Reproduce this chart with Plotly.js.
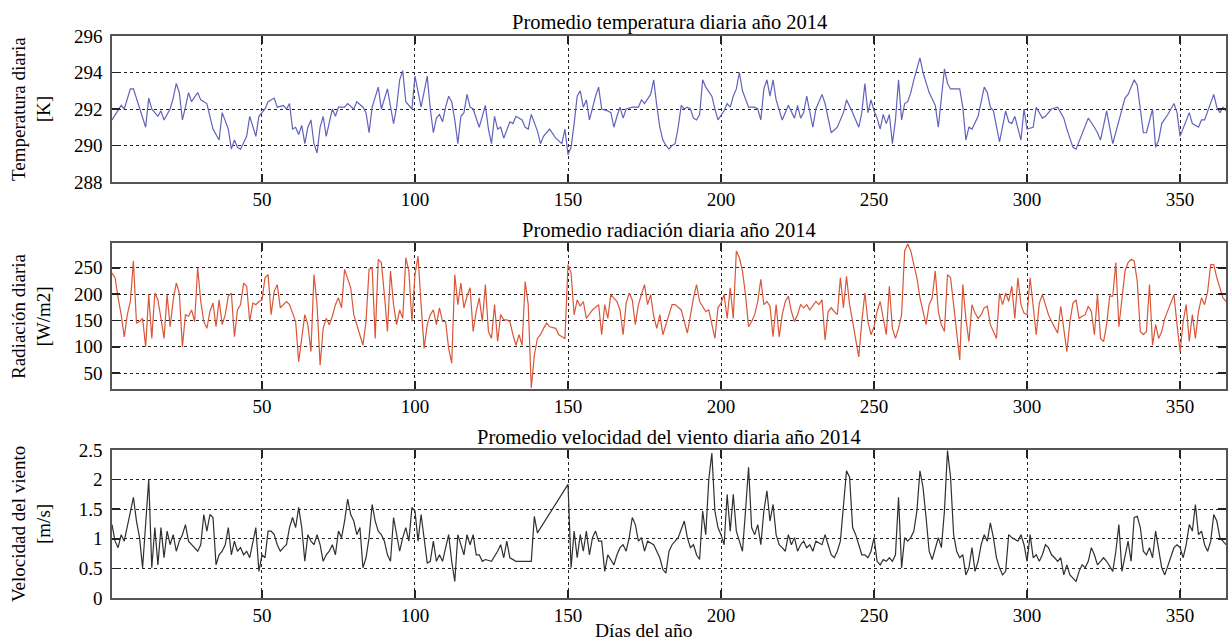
<!DOCTYPE html>
<html><head><meta charset="utf-8">
<script src="https://cdn.plot.ly/plotly-3.0.1.min.js"></script>
<style>html,body{margin:0;padding:0;background:#fff}#chart{width:1228px;height:640px}</style>
</head><body><div id="chart"></div>
<script>
// [day, value] pairs
const temperatura = [[1,291.4],[4,292.2],[5,292.0],[7,293.1],[8,293.1],[10,292.1],[12,291.0],[13,292.6],[14,292.0],[16,291.6],[17,291.9],[18,291.4],[20,292.0],[21,292.6],[22,293.4],[23,292.9],[24,291.4],[25,292.1],[26,292.9],[27,292.4],[29,292.9],[30,292.5],[32,292.3],[33,291.6],[34,290.9],[36,290.3],[37,291.8],[39,290.9],[40,289.8],[41,290.3],[42,289.9],[43,289.8],[45,290.5],[46,291.6],[47,291.0],[48,290.5],[49,291.6],[51,292.0],[52,292.4],[54,292.6],[55,292.1],[57,292.2],[58,292.0],[59,292.3],[60,290.9],[61,291.0],[62,290.6],[63,291.1],[64,290.1],[65,291.0],[66,291.4],[67,290.1],[68,289.6],[69,291.0],[70,291.6],[71,290.5],[73,292.0],[74,291.6],[75,292.1],[77,292.1],[78,292.3],[80,292.0],[81,292.4],[83,292.1],[84,291.8],[85,290.7],[86,292.1],[88,293.2],[89,292.0],[91,293.1],[93,291.2],[94,292.1],[95,293.6],[96,294.1],[97,292.4],[98,292.2],[99,292.0],[100,293.8],[102,292.1],[104,293.8],[105,292.0],[106,290.7],[107,291.5],[108,291.7],[109,291.3],[110,292.1],[111,292.7],[112,292.4],[113,291.4],[114,290.1],[115,291.6],[116,291.8],[117,292.8],[118,292.1],[119,292.0],[121,291.0],[123,292.2],[124,290.9],[125,290.1],[126,291.6],[127,290.9],[128,291.0],[129,290.4],[131,291.3],[132,291.2],[133,291.6],[135,291.4],[136,291.0],[137,290.9],[138,291.7],[140,290.8],[141,290.1],[142,290.5],[144,290.9],[146,290.4],[148,290.1],[149,290.9],[150,289.5],[151,289.9],[152,291.2],[153,292.7],[154,293.0],[155,292.1],[156,292.5],[157,291.4],[159,292.7],[160,293.2],[161,292.0],[163,291.9],[164,291.8],[165,291.0],[166,291.6],[167,292.1],[168,291.5],[169,292.0],[171,292.1],[173,292.1],[174,292.5],[175,292.3],[177,292.8],[178,293.6],[179,292.2],[180,291.0],[181,290.3],[182,290.0],[183,289.8],[184,290.0],[185,290.1],[186,291.0],[187,292.2],[188,292.0],[189,292.1],[190,292.0],[191,291.5],[192,291.4],[193,291.7],[194,293.6],[195,293.2],[197,292.7],[198,292.0],[199,291.4],[201,291.9],[202,292.3],[203,292.1],[204,292.7],[205,293.1],[206,294.0],[207,293.0],[209,292.1],[211,292.1],[212,292.0],[213,291.4],[214,293.1],[215,293.6],[216,292.7],[217,293.6],[218,292.5],[220,291.4],[221,291.8],[222,292.2],[224,291.5],[225,292.2],[226,291.5],[227,291.8],[228,292.7],[229,291.9],[230,291.0],[231,292.0],[233,292.8],[234,292.3],[235,291.5],[236,290.7],[238,291.0],[240,291.8],[241,292.5],[243,291.8],[245,291.0],[246,291.8],[247,293.4],[248,291.8],[249,292.5],[250,291.9],[251,291.5],[252,290.9],[253,291.7],[254,291.2],[255,291.7],[256,290.1],[257,291.4],[258,293.6],[259,291.4],[260,292.3],[261,292.4],[262,292.9],[263,293.6],[265,294.8],[266,294.0],[267,293.5],[268,292.9],[270,292.2],[271,291.0],[273,294.2],[274,293.4],[275,293.1],[278,293.1],[279,292.1],[280,290.3],[281,291.0],[282,290.9],[284,291.6],[286,293.2],[287,292.9],[288,292.1],[289,291.9],[291,290.2],[293,291.9],[294,291.3],[295,291.2],[296,291.6],[298,290.3],[299,292.0],[300,290.9],[302,291.0],[303,292.1],[305,291.5],[306,291.6],[308,292.0],[310,292.1],[312,291.5],[313,290.9],[315,289.9],[316,289.8],[318,290.7],[320,291.5],[322,291.0],[323,290.7],[324,290.3],[326,291.9],[328,290.1],[330,291.4],[332,292.6],[333,292.8],[335,293.6],[336,293.3],[337,292.0],[338,290.7],[339,290.7],[341,292.0],[342,289.9],[343,290.3],[344,291.2],[346,291.7],[348,292.3],[349,291.8],[350,290.5],[351,290.9],[353,291.8],[354,291.2],[356,291.0],[357,291.4],[358,291.4],[361,292.8],[362,292.1],[363,291.8],[364,292.1],[365,291.9]];

const radiacion = [[1,240],[2,231],[3,193],[4,161],[5,119],[6,161],[7,186],[8,263],[9,145],[10,148],[11,154],[12,100],[13,199],[14,116],[15,202],[16,189],[17,154],[18,116],[19,199],[20,138],[21,189],[22,221],[23,202],[24,100],[25,161],[26,158],[27,170],[28,148],[29,250],[30,186],[31,148],[32,135],[33,167],[34,183],[35,138],[36,189],[37,142],[38,161],[39,196],[40,202],[41,119],[42,170],[43,180],[44,221],[45,215],[46,148],[47,183],[48,180],[49,186],[50,189],[51,231],[52,237],[53,161],[54,205],[55,218],[56,174],[57,180],[58,186],[59,180],[61,148],[62,72],[63,119],[64,161],[65,142],[66,91],[67,237],[68,180],[69,65],[70,135],[71,154],[72,142],[73,158],[74,180],[75,193],[76,174],[77,247],[78,228],[79,212],[80,161],[81,142],[83,103],[84,148],[85,247],[86,250],[87,116],[88,266],[89,260],[90,199],[91,129],[92,244],[93,180],[94,142],[95,170],[96,154],[97,269],[98,244],[99,148],[100,237],[101,272],[102,180],[103,97],[104,142],[105,161],[106,170],[107,142],[108,174],[109,148],[110,148],[111,97],[112,69],[113,237],[114,180],[115,221],[116,174],[117,196],[118,212],[119,129],[120,167],[121,193],[122,148],[123,218],[124,129],[125,116],[126,180],[127,110],[128,161],[129,151],[130,151],[131,148],[132,123],[133,103],[134,123],[135,103],[136,224],[137,180],[138,22],[139,84],[140,116],[141,123],[142,135],[143,145],[144,138],[146,135],[147,123],[149,116],[150,256],[151,240],[152,161],[153,189],[154,177],[155,186],[156,154],[157,161],[158,170],[160,180],[161,123],[162,180],[163,154],[164,199],[166,186],[167,170],[168,123],[169,183],[170,202],[171,189],[172,142],[173,180],[175,218],[176,180],[177,199],[178,158],[179,135],[180,161],[181,123],[183,161],[184,180],[185,180],[187,170],[189,126],[190,161],[191,193],[192,218],[193,186],[195,167],[196,170],[198,116],[199,174],[200,183],[201,199],[202,154],[203,212],[204,154],[205,282],[206,269],[207,244],[208,199],[209,138],[210,148],[211,161],[212,186],[213,228],[214,180],[215,186],[216,177],[217,119],[218,180],[219,119],[220,161],[221,186],[222,196],[223,167],[224,148],[225,161],[226,180],[227,174],[228,180],[229,170],[231,186],[232,180],[233,189],[234,113],[235,167],[236,174],[237,167],[238,161],[239,231],[240,174],[241,234],[242,180],[243,148],[244,110],[245,81],[246,148],[247,202],[248,148],[249,123],[250,138],[251,167],[252,186],[253,154],[254,123],[255,215],[256,135],[257,116],[258,135],[259,161],[260,282],[261,295],[262,282],[263,256],[264,231],[265,193],[266,170],[267,142],[268,180],[269,193],[270,244],[271,167],[272,142],[273,129],[274,237],[275,231],[276,180],[277,129],[278,75],[279,218],[280,154],[281,110],[282,180],[283,164],[284,154],[285,161],[286,174],[287,177],[288,142],[290,116],[291,202],[292,180],[293,202],[294,186],[295,215],[296,154],[297,231],[298,180],[299,164],[300,161],[301,231],[303,123],[304,183],[305,199],[306,180],[307,161],[308,148],[310,126],[311,177],[312,135],[313,91],[314,148],[315,183],[316,189],[317,154],[318,158],[319,161],[320,177],[321,167],[322,123],[323,199],[324,116],[325,110],[326,142],[327,196],[328,196],[329,260],[330,138],[332,244],[333,260],[334,266],[335,263],[336,224],[337,129],[338,123],[339,129],[340,218],[341,103],[342,142],[343,116],[344,129],[345,154],[347,186],[348,199],[349,142],[350,91],[351,148],[352,180],[353,110],[354,161],[355,116],[356,167],[357,193],[358,180],[359,205],[360,256],[361,256],[362,231],[364,193],[365,186]];

const viento = [[1,1.24],[2,0.96],[3,0.85],[4,1.07],[5,0.96],[6,1.19],[7,1.47],[8,1.70],[9,1.30],[10,1.02],[11,0.51],[12,1.24],[13,2.0],[14,0.51],[15,1.19],[16,0.56],[17,1.19],[18,0.68],[19,1.13],[20,0.90],[21,1.07],[22,0.79],[23,0.96],[24,1.07],[25,1.24],[26,0.96],[27,0.90],[28,0.85],[29,0.79],[30,0.90],[31,1.41],[32,1.13],[33,1.41],[34,1.36],[35,0.56],[36,0.73],[37,0.79],[38,0.90],[39,1.19],[40,0.73],[41,0.96],[42,0.79],[43,0.85],[44,0.73],[45,0.79],[46,0.68],[47,0.96],[48,1.19],[49,0.45],[50,0.73],[51,0.68],[52,1.13],[53,1.13],[54,1.07],[55,0.90],[56,0.79],[57,0.85],[58,0.90],[59,1.19],[60,1.36],[61,1.19],[62,1.53],[63,1.19],[64,0.62],[65,1.07],[66,0.96],[67,0.90],[68,1.07],[69,0.90],[70,0.62],[71,0.73],[72,0.79],[73,0.90],[74,0.73],[75,1.13],[76,1.02],[77,1.30],[78,1.67],[79,1.41],[80,1.30],[81,1.07],[82,1.19],[83,0.51],[84,0.68],[85,1.02],[86,1.58],[87,1.30],[88,1.13],[89,1.07],[90,0.96],[91,0.73],[92,0.62],[93,1.36],[94,1.07],[95,0.79],[96,1.02],[97,1.19],[98,0.96],[99,1.53],[100,1.47],[101,0.96],[102,1.41],[103,1.02],[104,0.59],[105,0.62],[106,0.96],[107,0.62],[108,0.73],[109,0.62],[110,0.85],[111,1.07],[112,0.62],[113,0.28],[114,1.07],[115,0.90],[116,0.73],[117,1.07],[118,0.90],[119,1.07],[120,0.73],[121,0.73],[122,0.62],[123,0.65],[125,0.62],[127,0.79],[128,0.90],[129,0.68],[130,0.96],[131,0.68],[133,0.62],[135,0.62],[137,0.62],[138,0.62],[139,1.38],[140,1.10],[150,1.92],[151,0.51],[152,1.13],[153,0.68],[154,1.07],[155,0.79],[156,1.13],[157,0.73],[158,1.02],[159,1.13],[160,0.96],[161,0.96],[162,0.45],[163,0.73],[165,0.56],[166,0.73],[167,0.85],[168,0.90],[169,0.79],[170,1.02],[171,1.36],[172,1.24],[173,0.96],[174,1.02],[175,0.79],[176,0.96],[178,0.90],[179,0.79],[180,0.68],[181,0.48],[182,0.42],[183,0.79],[184,0.90],[185,0.96],[186,1.02],[188,1.30],[189,1.02],[190,0.85],[191,0.90],[192,0.73],[193,0.65],[194,1.47],[195,1.07],[196,2.0],[197,2.45],[198,1.47],[199,1.19],[200,1.07],[201,0.90],[202,1.75],[203,1.13],[204,1.75],[205,1.13],[206,0.96],[207,0.79],[208,1.47],[209,2.21],[210,1.19],[211,1.07],[212,1.24],[213,0.90],[214,1.47],[215,1.81],[216,1.30],[217,1.58],[218,1.07],[219,0.90],[220,0.85],[221,0.79],[222,1.07],[223,0.90],[224,1.02],[225,0.79],[226,0.90],[227,0.96],[228,0.85],[229,0.90],[230,0.79],[231,0.96],[233,0.90],[234,1.07],[235,0.90],[236,0.73],[237,0.68],[238,0.79],[239,0.96],[240,1.58],[241,2.15],[242,2.04],[243,1.19],[244,1.07],[245,0.90],[246,0.73],[247,0.73],[248,0.68],[249,0.79],[250,1.02],[251,0.62],[252,0.56],[253,0.65],[254,0.62],[255,0.68],[256,0.62],[257,0.73],[258,1.70],[259,0.51],[260,1.02],[261,0.96],[262,1.02],[263,1.13],[264,1.47],[265,2.15],[266,1.87],[267,1.36],[268,0.79],[269,0.65],[270,0.85],[271,1.02],[272,0.85],[273,1.47],[274,2.49],[275,2.04],[276,1.07],[277,0.79],[278,0.68],[279,0.73],[280,0.39],[281,0.51],[282,0.85],[283,0.45],[284,0.62],[285,0.90],[286,1.07],[287,0.96],[288,1.27],[289,1.02],[290,0.68],[291,0.51],[292,0.39],[293,0.45],[294,1.07],[295,1.02],[297,0.96],[298,1.07],[299,0.90],[300,0.62],[301,1.07],[302,0.68],[303,0.73],[304,0.62],[305,0.73],[306,0.90],[307,0.85],[308,0.73],[309,0.68],[310,0.62],[311,0.68],[312,0.39],[313,0.56],[314,0.39],[316,0.28],[317,0.45],[318,0.56],[319,0.51],[320,0.62],[321,0.85],[322,0.73],[323,0.56],[324,0.62],[325,0.68],[326,0.62],[328,0.45],[329,0.79],[330,1.24],[331,0.45],[332,0.68],[333,0.96],[334,0.62],[335,1.36],[336,1.38],[337,1.19],[338,0.79],[339,0.73],[340,0.85],[341,0.68],[342,1.13],[343,0.79],[344,0.51],[345,0.39],[347,0.68],[348,0.85],[349,0.90],[350,0.85],[351,0.68],[352,0.90],[353,1.24],[354,1.13],[355,1.58],[356,1.07],[357,1.13],[358,0.90],[359,0.79],[360,0.96],[361,1.41],[362,1.30],[363,1.02],[364,0.96],[365,0.90]];

const xTicks = [50, 100, 150, 200, 250, 300, 350];
const tempTicks = [288, 290, 292, 294, 296];
const radTicks = [50, 100, 150, 200, 250];
const windTicks = [0, 0.5, 1, 1.5, 2, 2.5];
const windTickText = ['0', '0.5', '1', '1.5', '2', '2.5'];
const titles = ['Promedio temperatura diaria año 2014', 'Promedio radiación diaria año 2014', 'Promedio velocidad del viento diaria año 2014'];
const yTitles = ['Temperatura diaria<br>[K]', 'Radiación diaria<br>[W/m2]', 'Velocidad del viento<br>[m/s]'];
const xTitle = 'Días del año';

const FONT = 'Liberation Serif, Times New Roman, serif';
const doms = [[0.7402, 1], [0.3719, 0.6317], [0, 0.2633]];

function tr(arr, ax, color) {
  return {x: arr.map(p => p[0]), y: arr.map(p => p[1]), xaxis: 'x' + ax, yaxis: 'y' + ax,
    type: 'scatter', mode: 'lines', line: {color: color, width: 1.2}, hoverinfo: 'skip', showlegend: false};
}
const data = [tr(temperatura, '', '#6262bc'), tr(radiacion, '2', '#db5638'), tr(viento, '3', '#303030')];

const base = {showline: true, mirror: 'ticks', linecolor: '#555', linewidth: 1.6,
  ticks: 'inside', ticklen: 8, tickwidth: 1.5, tickcolor: '#222',
  showgrid: true, gridcolor: '#222', griddash: '3px,3px', gridwidth: 1, zeroline: false,
  tickfont: {family: FONT, size: 19, color: '#000'}, fixedrange: true};

const layout = {width: 1228, height: 640, paper_bgcolor: '#fff', plot_bgcolor: '#fff',
  margin: {l: 112, r: 2, t: 36, b: 42}, showlegend: false, font: {family: FONT, size: 19, color: '#000'},
  annotations: []};
const yRanges = [[288, 296], [20, 297], [0, 2.5]];
const yT = [tempTicks, radTicks, windTicks];
['', '2', '3'].forEach((s, i) => {
  layout['xaxis' + s] = Object.assign({}, base, {range: [1, 365], tickvals: xTicks, anchor: 'y' + s, domain: [0, 1]});
  const y = Object.assign({}, base, {range: yRanges[i], tickvals: yT[i], anchor: 'x' + s, domain: doms[i], ticklabelstandoff: 4});
  if (i === 2) y.ticktext = windTickText;
  layout['yaxis' + s] = y;
  layout.annotations.push({text: titles[i], xref: 'paper', yref: 'paper', x: 0.5, y: doms[i][1],
    xanchor: 'center', yanchor: 'bottom', yshift: 0, showarrow: false, font: {family: FONT, size: 20.5, color: '#000'}});
  layout.annotations.push({text: yTitles[i], xref: 'paper', yref: 'paper', x: 0, xshift: -81,
    y: (doms[i][0] + doms[i][1]) / 2, xanchor: 'center', yanchor: 'middle', textangle: -90,
    showarrow: false, font: {family: FONT, size: 19, color: '#000'}});
});
layout.annotations.push({text: xTitle, xref: 'paper', yref: 'paper', x: 0.4767, y: 0, yshift: -32,
  xanchor: 'center', yanchor: 'middle', showarrow: false, font: {family: FONT, size: 19.5, color: '#000'}});

Plotly.newPlot('chart', data, layout, {displayModeBar: false, staticPlot: true});
</script></body></html>
